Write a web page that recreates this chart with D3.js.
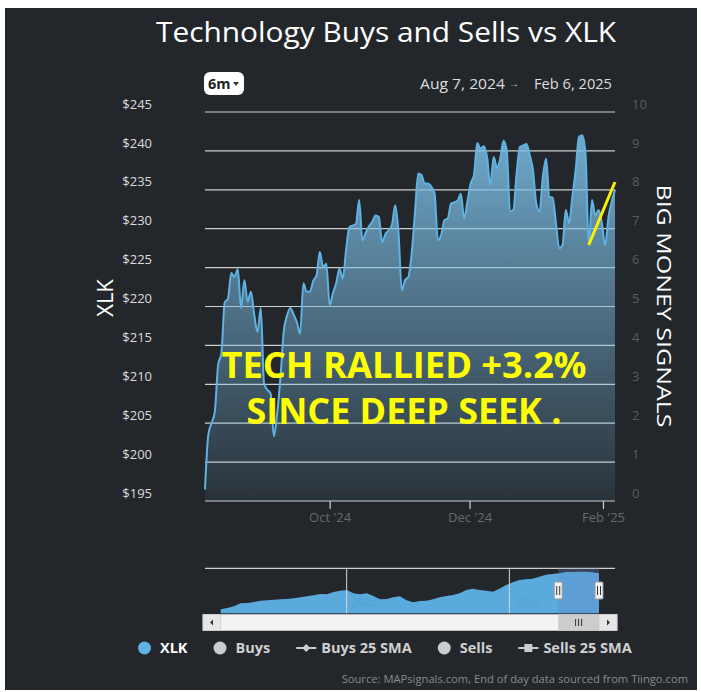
<!DOCTYPE html>
<html>
<head>
<meta charset="utf-8">
<script src="https://cdn.jsdelivr.net/npm/d3@7"></script>
<style>
  html, body { margin: 0; padding: 0; background: #fff; }
  svg { display: block; font-family: "Open Sans", sans-serif; }
</style>
</head>
<body>
<div id="chart"></div>
<script>
// XLK closes, one per trading day, Aug 7 2024 -> Feb 6 2025
var xlkClose = [
  196.5, 203.5, 205.0, 206.5, 212.5, 214.0, 220.5, 221.0, 224.3, 223.8,
  224.8, 219.8, 223.4, 220.6, 221.9, 219.0, 216.7, 219.8, 210.1, 209.3,
  208.8, 203.3, 206.3, 210.8, 216.8, 218.8, 219.8, 219.0, 218.0, 216.5,
  223.0, 221.9, 221.9, 223.3, 224.0, 227.0, 225.1, 225.5, 220.2, 221.7,
  223.0, 224.9, 223.6, 227.2, 230.2, 230.4, 230.6, 233.7, 228.5, 229.5,
  230.3, 230.9, 231.7, 231.5, 228.3, 229.3, 229.8, 230.5, 233.0, 229.5,
  222.1, 223.4, 223.8, 226.8, 232.0, 237.1, 236.9, 235.8, 235.8, 235.4,
  234.5, 228.5, 229.2, 231.1, 231.3, 233.2, 233.4, 233.6, 234.5, 231.3,
  233.5, 235.8, 236.9, 241.0, 240.3, 240.6, 239.2, 235.6, 239.2, 237.9,
  239.0, 241.3, 240.1, 232.2, 232.4, 237.1, 240.5, 240.7, 240.9, 239.5,
  237.5, 233.2, 232.2, 236.7, 239.0, 234.1, 234.0, 230.7, 227.5, 227.9,
  232.4, 230.7, 234.1, 237.5, 241.8, 242.0, 239.7, 227.9, 233.7, 231.7,
  232.4, 230.7, 227.9, 231.5, 233.5, 235.0
];

var startDate = "2024-08-07";
var endDate = "2025-02-06";
var marketHolidays = ["2024-09-02", "2024-11-28", "2024-12-25", "2025-01-01", "2025-01-09", "2025-01-20"];

var priceTicks = [195, 200, 205, 210, 215, 220, 225, 230, 235, 240, 245];
var signalTicks = [0, 1, 2, 3, 4, 5, 6, 7, 8, 9, 10];
var monthTicks = ["2024-10-01", "2024-12-01", "2025-02-01"];
var monthLabels = ["Oct '24", "Dec '24", "Feb '25"];

// navigator: longer XLK history, evenly spaced samples
var navStart = "2020-06-15";
var navClose = [
  104.4, 109.0, 115.0, 126.0, 127.0, 131.0, 135.6, 137.0, 139.0, 140.4,
  141.6, 144.0, 147.6, 151.0, 154.8, 159.6, 158.4, 166.8, 171.6, 174.0,
  162.0, 158.4, 162.0, 152.4, 140.4, 141.6, 147.6, 151.0, 137.0, 129.6,
  134.4, 135.6, 140.4, 147.6, 152.4, 156.0, 162.0, 174.0, 178.8, 174.0,
  171.6, 168.0, 178.8, 192.0, 201.6, 210.0, 212.4, 214.8, 222.0, 229.2,
  231.6, 234.0, 238.8, 238.8, 240.0, 240.0, 237.6, 234.0
];
var navYearTicks = ["2022-01-01", "2024-01-01"];

// hand-drawn trend mark after the Jan 27 drop: [trading day index, price]
var trendLine = [[117, 227.9], [125, 236.0]];

var legendNames = ["XLK", "Buys", "Buys 25 SMA", "Sells", "Sells 25 SMA"];
var legendSymbols = ["circle", "circle", "diamond", "circle", "square"];

var chartTitle = "Technology Buys and Sells vs XLK";
var noteLines = ["TECH RALLIED +3.2%", "SINCE DEEP SEEK ."];
var sourceText = "Source: MAPsignals.com, End of day data sourced from Tiingo.com";

(function() {
  var width = 701, height = 692;
  var plot = { left: 205, right: 615, top: 112, bottom: 501 };
  var nav = { left: 220.7, right: 599, top: 568.3, bottom: 613.3 };
  var bg = "#23272b";
  var lineColor = "#5fb3e3";

  var parse = d3.timeParse("%Y-%m-%d");
  var fmt = d3.timeFormat("%Y-%m-%d");
  var rangeFmt = d3.timeFormat("%b %-d, %Y");

  var tradingDays = d3.timeDay.range(parse(startDate), d3.timeDay.offset(parse(endDate), 1))
  .filter(function(d) {
    var w = d.getDay();
    return w !== 0 && w !== 6 && marketHolidays.indexOf(fmt(d)) < 0;
  });

  // ordinal position of a calendar date among trading days
  function dayPos(d) {
    var i = d3.bisectRight(tradingDays, d) - 1;
    if (i < 0) return 0;
    if (+tradingDays[i] === +d || i >= tradingDays.length - 1) return i;
    return i + (d - tradingDays[i]) / (tradingDays[i + 1] - tradingDays[i]);
  }

  var x = d3.scaleLinear()
  .domain([0, xlkClose.length - 1])
  .range([plot.left, plot.right]);

  var y = d3.scaleLinear()
  .domain([d3.min(priceTicks), d3.max(priceTicks)])
  .range([plot.bottom, plot.top]);

  var ySig = d3.scaleLinear()
  .domain([d3.min(signalTicks), d3.max(signalTicks)])
  .range([plot.bottom, plot.top]);

  var svg = d3.select("#chart")
  .append("svg")
  .attr("width", width)
  .attr("height", height);

  var defs = svg.append("defs");
  var grad = defs.append("linearGradient")
  .attr("id", "xlkFill")
  .attr("gradientUnits", "userSpaceOnUse")
  .attr("x1", 0).attr("x2", 0)
  .attr("y1", plot.top).attr("y2", plot.bottom);
  grad.append("stop").attr("offset", "0%").attr("stop-color", "rgb(125,192,232)").attr("stop-opacity", 0.9);
  grad.append("stop").attr("offset", "100%").attr("stop-color", "rgb(125,192,232)").attr("stop-opacity", 0.07);

  // dark panel
  svg.append("rect")
  .attr("x", 5).attr("y", 8)
  .attr("width", 692).attr("height", 682)
  .attr("fill", bg);

  svg.append("text")
  .attr("x", 386).attr("y", 42)
  .attr("text-anchor", "middle")
  .attr("font-size", "27px")
  .attr("textLength", 460)
  .attr("lengthAdjust", "spacingAndGlyphs")
  .attr("fill", "#fff")
  .text(chartTitle);

  // range selector button + dates
  svg.append("rect")
  .attr("x", 204).attr("y", 72)
  .attr("width", 40).attr("height", 23)
  .attr("rx", 6)
  .attr("fill", "#fff");
  svg.append("text")
  .attr("x", 208).attr("y", 89)
  .attr("font-size", "14.5px")
  .attr("font-weight", "bold")
  .attr("fill", "#222")
  .text("6m");
  svg.append("path")
  .attr("d", "M233,82L239,82L236,86Z")
  .attr("fill", "#333");

  svg.append("text")
  .attr("x", 420).attr("y", 89)
  .attr("font-size", "14px")
  .attr("textLength", 85)
  .attr("lengthAdjust", "spacingAndGlyphs")
  .attr("fill", "#ddd")
  .text(rangeFmt(tradingDays[0]));
  svg.append("text")
  .attr("x", 514).attr("y", 87)
  .attr("text-anchor", "middle")
  .attr("font-size", "10px")
  .attr("fill", "#ddd")
  .text("→");
  svg.append("text")
  .attr("x", 534).attr("y", 89)
  .attr("font-size", "14px")
  .attr("textLength", 78)
  .attr("lengthAdjust", "spacingAndGlyphs")
  .attr("fill", "#ddd")
  .text(rangeFmt(tradingDays[tradingDays.length - 1]));

  // gridlines
  svg.append("g")
  .selectAll("line")
  .data(priceTicks)
  .enter()
  .append("line")
  .attr("x1", plot.left).attr("x2", plot.right)
  .attr("y1", function(d) { return y(d); })
  .attr("y2", function(d) { return y(d); })
  .attr("stroke", "#cfcfcf")
  .attr("stroke-width", 1.2);

  // left axis
  var yAxis = svg.append("g")
  .attr("transform", "translate(152,0)")
  .call(d3.axisLeft(y).tickValues(priceTicks).tickSize(0).tickPadding(0)
    .tickFormat(function(d) { return "$" + d; }));
  yAxis.select(".domain").remove();
  yAxis.selectAll("text")
  .attr("dy", "-0.3em")
  .attr("font-family", "Open Sans, sans-serif")
  .attr("font-size", "13px")
  .attr("fill", "#dcdcdc");

  // right axis
  var sAxis = svg.append("g")
  .attr("transform", "translate(632,0)")
  .call(d3.axisRight(ySig).tickValues(signalTicks).tickSize(0).tickPadding(0));
  sAxis.select(".domain").remove();
  sAxis.selectAll("text")
  .attr("dy", "-0.3em")
  .attr("font-family", "Open Sans, sans-serif")
  .attr("font-size", "13px")
  .attr("fill", "#5c5c5c");

  // bottom axis
  var tickPos = monthTicks.map(function(m) { return dayPos(parse(m)); });
  var xAxis = svg.append("g")
  .attr("transform", "translate(0," + plot.bottom + ")")
  .call(d3.axisBottom(x).tickValues(tickPos).tickSize(8).tickPadding(4)
    .tickFormat(function(d, i) { return monthLabels[i]; }));
  xAxis.select(".domain").remove();
  xAxis.selectAll("line").attr("stroke", "#cfcfcf").attr("stroke-width", 1.2);
  xAxis.selectAll("text")
  .attr("font-family", "Open Sans, sans-serif")
  .attr("font-size", "13px")
  .attr("fill", "#6a6a6a");

  // axis titles
  svg.append("text")
  .attr("transform", "translate(113,298) rotate(-90)")
  .attr("text-anchor", "middle")
  .attr("font-size", "22px")
  .attr("fill", "#fff")
  .text("XLK");
  svg.append("text")
  .attr("transform", "translate(657,306) rotate(90)")
  .attr("text-anchor", "middle")
  .attr("font-size", "20px")
  .attr("textLength", 243)
  .attr("lengthAdjust", "spacingAndGlyphs")
  .attr("fill", "#fff")
  .text("BIG MONEY SIGNALS");

  // XLK area + line
  var area = d3.area()
  .x(function(d, i) { return x(i); })
  .y0(plot.bottom)
  .y1(function(d) { return y(d); })
  .curve(d3.curveMonotoneX);

  var line = d3.line()
  .x(function(d, i) { return x(i); })
  .y(function(d) { return y(d); })
  .curve(d3.curveMonotoneX);

  svg.append("path")
  .datum(xlkClose)
  .attr("d", area)
  .attr("fill", "url(#xlkFill)");

  svg.append("path")
  .datum(xlkClose)
  .attr("d", line)
  .attr("fill", "none")
  .attr("stroke", lineColor)
  .attr("stroke-width", 2)
  .attr("stroke-linejoin", "round");

  // annotation
  svg.append("line")
  .attr("x1", x(trendLine[0][0])).attr("y1", y(trendLine[0][1]))
  .attr("x2", x(trendLine[1][0])).attr("y2", y(trendLine[1][1]))
  .attr("stroke", "#f7f200")
  .attr("stroke-width", 3);

  var noteWidths = [365, 315];
  var noteY = [378, 424];
  svg.selectAll(".note")
  .data(noteLines)
  .enter()
  .append("text")
  .attr("class", "note")
  .attr("x", 404)
  .attr("y", function(d, i) { return noteY[i]; })
  .attr("text-anchor", "middle")
  .attr("font-size", "36px")
  .attr("font-weight", "bold")
  .attr("textLength", function(d, i) { return noteWidths[i]; })
  .attr("lengthAdjust", "spacingAndGlyphs")
  .attr("fill", "#ffff00")
  .text(function(d) { return d; });

  // navigator
  var navT0 = parse(navStart), navT1 = parse(endDate);
  var xNav = d3.scaleTime()
  .domain([navT0, navT1])
  .range([nav.left, nav.right]);
  var yNav = d3.scaleLinear()
  .domain([90, 252])
  .range([nav.bottom, nav.top]);
  var navDate = function(i) {
    return new Date(+navT0 + (navT1 - navT0) * i / (navClose.length - 1));
  };

  svg.append("line")
  .attr("x1", plot.left).attr("x2", plot.right)
  .attr("y1", nav.top).attr("y2", nav.top)
  .attr("stroke", "#cfcfcf")
  .attr("stroke-width", 1.2);

  svg.append("path")
  .datum(navClose)
  .attr("d", d3.area()
    .x(function(d, i) { return xNav(navDate(i)); })
    .y0(nav.bottom)
    .y1(function(d) { return yNav(d); }))
  .attr("fill", "#5aaade");

  var navYears = svg.append("g")
  .selectAll("g")
  .data(navYearTicks)
  .enter()
  .append("g")
  .attr("transform", function(d) { return "translate(" + xNav(parse(d)) + ",0)"; });
  navYears.append("line")
  .attr("y1", nav.top).attr("y2", nav.bottom)
  .attr("stroke", "#d5d5d5")
  .attr("stroke-width", 1);
  navYears.append("text")
  .attr("x", 5).attr("y", 606)
  .attr("font-size", "11px")
  .attr("fill", "#55a2d3")
  .text(function(d) { return d.slice(0, 4); });

  var selX0 = xNav(tradingDays[0]), selX1 = xNav(tradingDays[tradingDays.length - 1]);
  svg.append("rect")
  .attr("x", selX0).attr("y", nav.top)
  .attr("width", selX1 - selX0).attr("height", nav.bottom - nav.top)
  .attr("fill", "rgba(102,133,194,0.3)");

  [selX0, selX1].forEach(function(hx) {
    svg.append("rect")
    .attr("x", hx - 4).attr("y", 582)
    .attr("width", 8).attr("height", 17)
    .attr("rx", 1)
    .attr("fill", "#f2f2f2")
    .attr("stroke", "#999");
    [-1.5, 1.5].forEach(function(o) {
      svg.append("line")
      .attr("x1", hx + o).attr("x2", hx + o)
      .attr("y1", 586).attr("y2", 595)
      .attr("stroke", "#333");
    });
  });

  // scrollbar
  var sb = { left: 203, right: 617, top: 614.5, h: 16 };
  svg.append("rect")
  .attr("x", sb.left).attr("y", sb.top)
  .attr("width", sb.right - sb.left).attr("height", sb.h)
  .attr("fill", "#f2f2f2")
  .attr("stroke", "#cccccc")
  .attr("stroke-width", 0.8);
  svg.append("rect")
  .attr("x", selX0).attr("y", sb.top)
  .attr("width", selX1 - selX0).attr("height", sb.h)
  .attr("fill", "#cccccc");
  [-3, 0, 3].forEach(function(o) {
    svg.append("line")
    .attr("x1", (selX0 + selX1) / 2 + o).attr("x2", (selX0 + selX1) / 2 + o)
    .attr("y1", sb.top + 4.5).attr("y2", sb.top + 11.5)
    .attr("stroke", "#333");
  });
  svg.append("rect")
  .attr("x", sb.left).attr("y", sb.top)
  .attr("width", nav.left - sb.left).attr("height", sb.h)
  .attr("fill", "#e6e6e6")
  .attr("stroke", "#cccccc")
  .attr("stroke-width", 0.8);
  svg.append("rect")
  .attr("x", nav.right).attr("y", sb.top)
  .attr("width", sb.right - nav.right).attr("height", sb.h)
  .attr("fill", "#e6e6e6")
  .attr("stroke", "#cccccc")
  .attr("stroke-width", 0.8);
  var midY = sb.top + sb.h / 2;
  svg.append("path")
  .attr("d", "M" + (sb.left + 10) + "," + (midY - 3) + "L" + (sb.left + 7) + "," + midY + "L" + (sb.left + 10) + "," + (midY + 3) + "Z")
  .attr("fill", "#333");
  svg.append("path")
  .attr("d", "M" + (sb.right - 10) + "," + (midY - 3) + "L" + (sb.right - 7) + "," + midY + "L" + (sb.right - 10) + "," + (midY + 3) + "Z")
  .attr("fill", "#333");

  // legend
  var legendY = 648;
  var lx = 138;
  legendNames.forEach(function(name, i) {
    var sym = legendSymbols[i];
    var isXlk = i === 0;
    var color = isXlk ? lineColor : "#cccccc";
    var g = svg.append("g").attr("transform", "translate(" + lx + "," + legendY + ")");
    var symW;
    if (sym === "circle") {
      g.append("circle").attr("cx", 6.5).attr("cy", 0).attr("r", 6.5).attr("fill", color);
      symW = 13;
    } else {
      symW = 20;
      g.append("line").attr("x1", 0).attr("x2", symW).attr("y1", 0).attr("y2", 0)
      .attr("stroke", color).attr("stroke-width", 2);
      if (sym === "diamond") {
        g.append("path").attr("d", "M10,-4L14,0L10,4L6,0Z").attr("fill", color);
      } else {
        g.append("rect").attr("x", 6).attr("y", -4).attr("width", 8).attr("height", 8).attr("fill", color);
      }
    }
    var t = g.append("text")
    .attr("x", symW + (sym === "circle" ? 9 : 5))
    .attr("y", 5)
    .attr("font-size", "14.5px")
    .attr("font-weight", "bold")
    .attr("fill", isXlk ? "#fff" : "#d0d0d0")
    .text(name);
    lx += symW + (sym === "circle" ? 9 : 5) + t.node().getComputedTextLength() + 26;
  });

  svg.append("text")
  .attr("x", 688).attr("y", 683)
  .attr("text-anchor", "end")
  .attr("font-size", "11.2px")
  .attr("fill", "#8a8a8a")
  .text(sourceText);
})();
</script>
</body>
</html>
